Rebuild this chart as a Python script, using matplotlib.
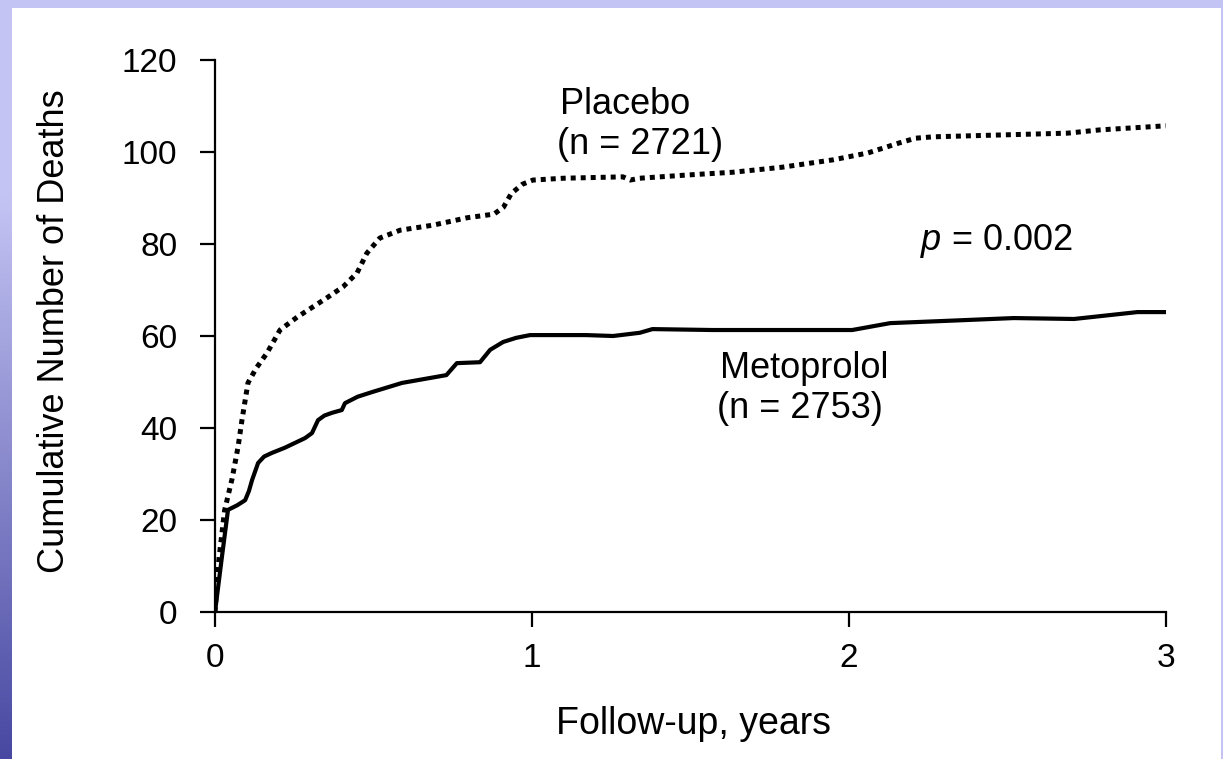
import numpy as np
import matplotlib
matplotlib.use("Agg")
import matplotlib.pyplot as plt
from matplotlib.patches import Rectangle

plt.rcParams['font.family'] = ['Liberation Sans', 'DejaVu Sans']
plt.rcParams['mathtext.fontset'] = 'custom'
plt.rcParams['mathtext.it'] = 'Liberation Sans:italic'
plt.rcParams['mathtext.rm'] = 'Liberation Sans'

# ---- data ----
placebo_x = [0, 0.01, 0.03, 0.054, 0.073, 0.085, 0.104, 0.13, 0.164, 0.205, 0.259,
             0.353, 0.404, 0.448, 0.479, 0.52, 0.584, 0.688, 0.795, 0.88, 0.91,
             0.935, 0.97, 1.003, 1.1, 1.287, 1.31, 1.34, 1.49, 1.634, 1.79, 1.95,
             2.06, 2.16, 2.21, 2.265, 2.476, 2.69, 2.79, 3.0]
placebo_y = [0, 10, 22, 29, 36, 41.7, 49.8, 53, 56.3, 61.3, 64.1,
             68.3, 70.7, 73.7, 78, 81.3, 83, 84.1, 85.7, 86.5, 88,
             91, 93, 93.9, 94.3, 94.6, 93.9, 94.3, 95, 95.6, 96.7, 98.3,
             99.8, 102, 103, 103.3, 103.7, 104.1, 104.8, 105.7]

metoprolol_x = [0, 0.02, 0.041, 0.07, 0.095, 0.107, 0.117, 0.136, 0.155, 0.18, 0.22,
                0.284, 0.306, 0.325, 0.345, 0.369, 0.40, 0.41, 0.45, 0.495, 0.59,
                0.73, 0.763, 0.836, 0.868, 0.909, 0.95, 0.994, 1.17, 1.256, 1.34,
                1.38, 1.57, 1.836, 2.01, 2.13, 2.31, 2.52, 2.71, 2.83, 2.91, 3.0]
metoprolol_y = [0, 11, 22.2, 23.2, 24.3, 26.3, 28.7, 32.4, 33.8, 34.6, 35.7,
                37.8, 38.9, 41.7, 42.7, 43.3, 43.9, 45.4, 46.8, 47.8, 49.8,
                51.5, 54.1, 54.3, 57, 58.7, 59.6, 60.2, 60.2, 60, 60.7,
                61.5, 61.3, 61.3, 61.3, 62.8, 63.3, 63.9, 63.7, 64.6, 65.2, 65.2]

x_ticks = [0, 1, 2, 3]
y_ticks = [0, 20, 40, 60, 80, 100, 120]

W, H = 1223, 759
fig = plt.figure(figsize=(W / 100, H / 100), dpi=100)
fig.patch.set_facecolor('white')

# ---- decorative frame (slide border) ----
lav = np.array([196, 196, 244]) / 255
dark = np.array([72, 72, 162]) / 255
fig.patches.append(Rectangle((0, 1 - 8 / H), 1, 8 / H, transform=fig.transFigure,
                             facecolor=lav, edgecolor='none', zorder=0))
fig.patches.append(Rectangle((1221 / W, 0), 2 / W, 1, transform=fig.transFigure,
                             facecolor=lav, edgecolor='none', zorder=0))
gax = fig.add_axes([0, 0, 12 / W, 1 - 8 / H])
t = np.linspace(0, 1, 256)
frac = np.clip((t - 0.25) / 0.75, 0, 1)
cols = lav[None, :] * (1 - frac[:, None]) + dark[None, :] * frac[:, None]
gax.imshow(cols[:, None, :], aspect='auto', extent=[0, 1, 0, 1])
gax.set_axis_off()

# ---- main axes ----
ax = fig.add_axes([215 / W, 1 - 612 / H, (1166 - 215) / W, (612 - 60) / H])
ax.plot(metoprolol_x, metoprolol_y, color='black', lw=3.0, solid_capstyle='round',
        solid_joinstyle='round')
ax.plot(placebo_x, placebo_y, color='black', lw=3.6, linestyle=(0, (1, 1.0)),
        dash_capstyle='butt')

ax.set_xlim(0, 3)
ax.set_ylim(0, 120)
ax.set_xticks(x_ticks)
ax.set_yticks(y_ticks)
for s in ['top', 'right']:
    ax.spines[s].set_visible(False)
for s in ['left', 'bottom']:
    ax.spines[s].set_linewidth(1.6)
ax.tick_params(axis='both', direction='out', length=11, width=1.6, labelsize=24)
ax.tick_params(axis='y', pad=16)
ax.tick_params(axis='x', pad=11)

fig.text(694 / W, 1 - 724 / H, 'Follow-up, years', fontsize=27,
         ha='center', va='center')
fig.text(55 / W, 1 - 331 / H, 'Cumulative Number of Deaths', fontsize=26,
         ha='center', va='center', rotation=90)

def dy(py):
    return (612 - py) / 4.6

ax.text(1.088, dy(104), 'Placebo', fontsize=26, va='center', ha='left')
ax.text(1.080, dy(144), '(n = 2721)', fontsize=26, va='center', ha='left')
ax.text(2.224, dy(241), r'$\it{p}$ = 0.002', fontsize=26, va='center', ha='left')
ax.text(1.593, dy(368), 'Metoprolol', fontsize=26, va='center', ha='left')
ax.text(1.585, dy(409), '(n = 2753)', fontsize=26, va='center', ha='left')

fig.savefig('out.png', dpi=100, facecolor='white')
